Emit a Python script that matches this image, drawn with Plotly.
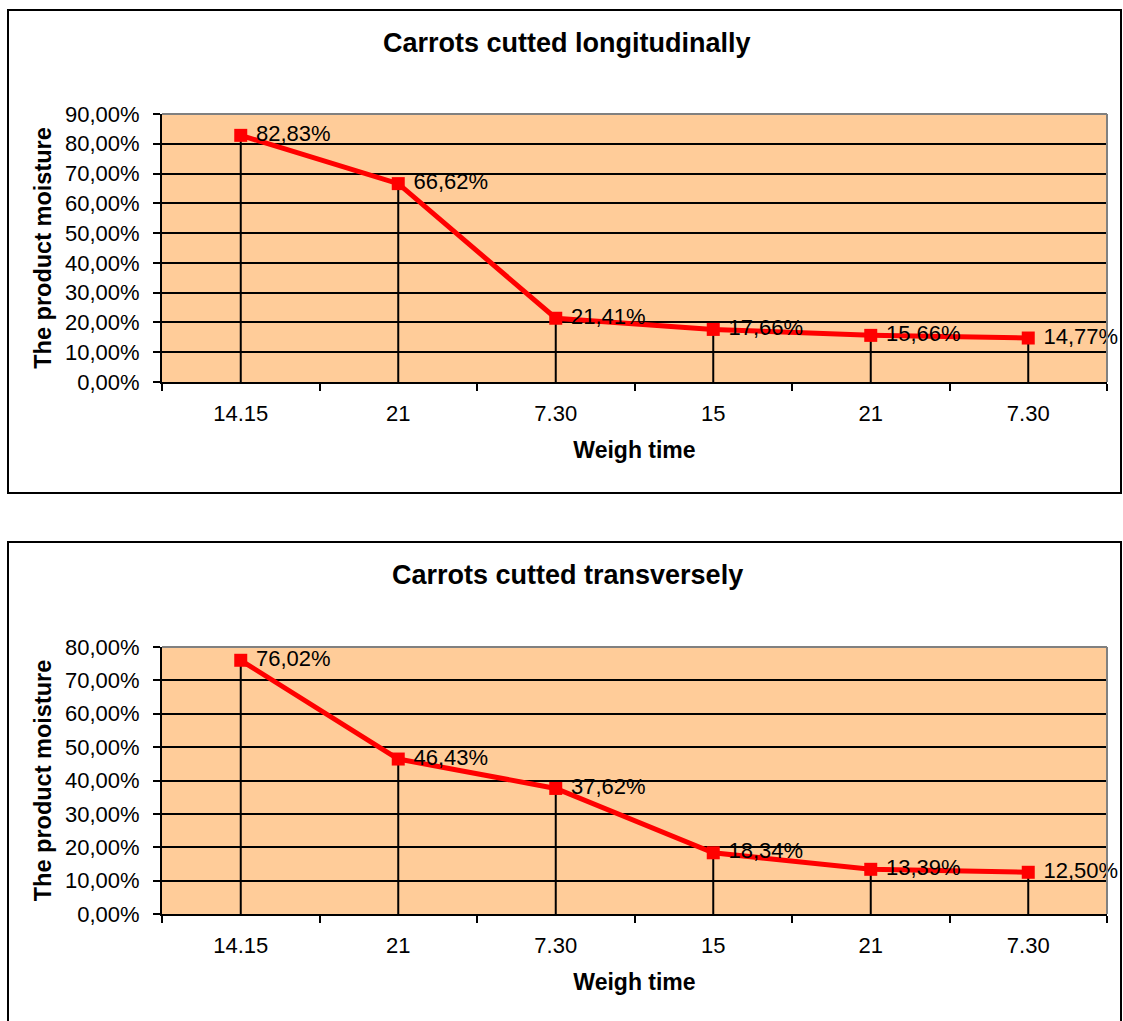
import plotly.graph_objects as go

# ---- data ----
weigh_times = ["14.15", "21", "7.30", "15", "21", "7.30"]
moisture_longitudinal = [82.83, 66.62, 21.41, 17.66, 15.66, 14.77]
moisture_transverse = [76.02, 46.43, 37.62, 18.34, 13.39, 12.50]
titles = ["Carrots cutted longitudinally", "Carrots cutted transversely"]
y_max = [90, 80]
y_axis_title = "The product moisture"
x_axis_title = "Weigh time"

FONT = "Liberation Sans, Arial, sans-serif"
W, H = 1123, 1021

def fmt(v):
    return "\u00a0" + f"{v:.2f}".replace(".", ",") + "%"

x_idx = list(range(len(weigh_times)))

fig = go.Figure()

# panel geometry in pixels (plot area)
panels = [
    dict(series=moisture_longitudinal, top=114, bottom=382, box=(8, 10, 1121, 493), title_y=43),
    dict(series=moisture_transverse, top=647, bottom=914, box=(8, 542, 1121, 1030), title_y=575),
]
px_left, px_right = 162, 1107

shapes = []
annotations = []
for i, p in enumerate(panels):
    ax = "" if i == 0 else str(i + 1)
    xa, ya = "x" + ax, "y" + ax
    vals = p["series"]
    # drop lines
    fig.add_trace(go.Scatter(
        x=x_idx, y=vals, xaxis=xa, yaxis=ya, mode="markers",
        marker=dict(size=1, opacity=0), hoverinfo="skip", showlegend=False,
        error_y=dict(type="data", symmetric=False, array=[0] * len(vals),
                     arrayminus=vals, color="black", thickness=2, width=0),
    ))
    fig.add_trace(go.Scatter(
        x=x_idx, y=vals, xaxis=xa, yaxis=ya, mode="lines+markers+text",
        line=dict(color="#FF0000", width=5),
        marker=dict(symbol="square", size=13, color="#FF0000"),
        text=[fmt(v) for v in vals], textposition="middle right",
        textfont=dict(family=FONT, size=22, color="black"),
        cliponaxis=False, showlegend=False,
    ))
    dom_y = [1 - p["bottom"] / H, 1 - p["top"] / H]
    dom_x = [px_left / W, px_right / W]
    fig.update_layout(**{
        "xaxis" + ax: dict(
            domain=dom_x, anchor=ya, range=[-0.5, len(vals) - 0.5], automargin=False,
            tickmode="array", tickvals=x_idx, ticktext=weigh_times, ticks="",
            minor=dict(tickmode="linear", tick0=-0.5, dtick=1, ticks="outside",
                       ticklen=7, tickcolor="black", tickwidth=2, showgrid=False),
            showgrid=False, zeroline=False, showline=True, linecolor="black", linewidth=2,
            tickfont=dict(family=FONT, size=22, color="black"),
            ticklabelstandoff=11,
            title=dict(text="<b>" + x_axis_title + "</b>", standoff=16,
                       font=dict(family=FONT, size=23, color="black")),
        ),
        "yaxis" + ax: dict(
            domain=dom_y, anchor=xa, range=[0, y_max[i]], dtick=10, automargin=False,
            tickformat=".2f", ticksuffix="%",
            ticks="outside", ticklen=7, tickcolor="black", tickwidth=2,
            showgrid=True, gridcolor="black", gridwidth=1.5,
            zeroline=False, showline=True, linecolor="black", linewidth=2,
            tickfont=dict(family=FONT, size=22, color="black"),
            ticklabelstandoff=9,
            title=dict(text="<b>" + y_axis_title + "</b>", standoff=7,
                       font=dict(family=FONT, size=23.5, color="black")),
        ),
    })
    x0, y0, x1, y1 = p["box"]
    shapes.append(dict(type="rect", xref="paper", yref="paper",
                       x0=x0 / W, x1=x1 / W, y0=1 - y1 / H, y1=1 - y0 / H,
                       line=dict(color="black", width=2), layer="below"))
    # gray top/right edges of plot area
    shapes.append(dict(type="line", xref=xa + " domain", yref=ya + " domain",
                       x0=0, x1=1, y0=1, y1=1, line=dict(color="#808080", width=2)))
    shapes.append(dict(type="line", xref=xa + " domain", yref=ya + " domain",
                       x0=1, x1=1, y0=0, y1=1, line=dict(color="#808080", width=2)))
    annotations.append(dict(text="<b>" + titles[i] + "</b>", xref="paper", yref="paper",
                            x=567 / W, y=1 - p["title_y"] / H, showarrow=False,
                            xanchor="center", yanchor="middle",
                            font=dict(family=FONT, size=27, color="black")))

fig.update_layout(
    width=W, height=H, margin=dict(l=0, r=0, t=0, b=0, autoexpand=False),
    paper_bgcolor="white", plot_bgcolor="#FFCC99",
    separators=", ", shapes=shapes, annotations=annotations,
    font=dict(family=FONT, color="black"),
)

fig.write_html(
    "out.html",
    config={"displayModeBar": False},
    post_script="document.body.style.margin='0';document.documentElement.style.overflow='hidden';document.body.style.overflow='hidden';",
)
